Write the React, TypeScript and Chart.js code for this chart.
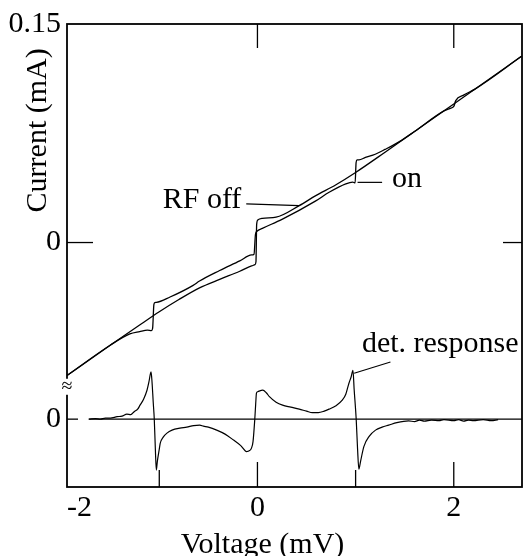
import React, { useEffect, useRef } from "react";
import { Chart, registerables } from "chart.js";

Chart.register(...registerables);

// ---- data (Voltage in mV, Current in mA, detector response in arbitrary units) ----
const OFF_V = [-1.94, -1.5, -1.2, -1.0, -0.8, -0.59, -0.385, -0.18, -0.06, -0.025, -0.015, -0.008, 0.003, 0.05, 0.19, 0.425, 0.59, 0.8, 1.0, 1.3, 2.0, 2.69];
const OFF_I = [-0.0913, -0.0705, -0.0566, -0.0475, -0.0391, -0.0311, -0.0253, -0.0197, -0.0161, -0.0151, -0.0132, 0.0124, 0.0154, 0.0166, 0.0174, 0.0253, 0.032, 0.0397, 0.0481, 0.062, 0.0951, 0.1278];

const ON_V = [-1.94, -1.5, -1.3, -1.2, -1.12, -1.08, -1.068, -1.055, -1.045, -1.03, -0.89, -0.655, -0.59, -0.385, -0.18, -0.06, -0.035, -0.02, -0.005, 0.05, 0.25, 0.59, 0.73, 0.9, 0.97, 0.995, 1.005, 1.015, 1.034, 1.1, 1.2, 1.3, 1.45, 1.6, 1.9, 1.97, 2.0, 2.02, 2.1, 2.22, 2.69];
const ON_I = [-0.0913, -0.0705, -0.0627, -0.0611, -0.0601, -0.0604, -0.059, -0.0426, -0.0412, -0.0411, -0.0374, -0.0294, -0.0264, -0.0192, -0.0126, -0.0085, -0.008, 0.0057, 0.0078, 0.0097, 0.0159, 0.0284, 0.0345, 0.0403, 0.0415, 0.0409, 0.0549, 0.0567, 0.0567, 0.0584, 0.0606, 0.0639, 0.0694, 0.0762, 0.0904, 0.0923, 0.0934, 0.0974, 0.1012, 0.1055, 0.1278];

const DET_V = [-1.715, -1.65, -1.6, -1.55, -1.5, -1.429, -1.38, -1.33, -1.29, -1.256, -1.22, -1.196, -1.16, -1.125, -1.105, -1.084, -1.074, -1.062, -1.051, -1.04, -1.03, -1.02, -1.0, -0.99, -0.96, -0.922, -0.87, -0.79, -0.72, -0.65, -0.588, -0.55, -0.5, -0.415, -0.33, -0.243, -0.17, -0.111, -0.08, -0.061, -0.045, -0.027, -0.018, -0.01, 0.003, 0.054, 0.09, 0.122, 0.19, 0.256, 0.34, 0.426, 0.5, 0.56, 0.62, 0.68, 0.729, 0.8, 0.864, 0.9, 0.932, 0.955, 0.973, 0.985, 1.006, 1.02, 1.033, 1.05, 1.084, 1.14, 1.203, 1.27, 1.337, 1.42, 1.54, 1.6, 1.65, 1.7, 1.773, 1.85, 1.9, 2.0, 2.05, 2.1, 2.15, 2.2, 2.3, 2.38, 2.452];
const DET_R = [0, 0.01, 0.0, 0.02, 0.02, 0.05, 0.06, 0.1, 0.09, 0.15, 0.2, 0.28, 0.4, 0.58, 0.75, 0.95, 0.75, 0.35, 0.0, -0.6, -1.02, -0.85, -0.6, -0.48, -0.36, -0.28, -0.22, -0.18, -0.16, -0.13, -0.12, -0.14, -0.16, -0.22, -0.3, -0.42, -0.53, -0.65, -0.63, -0.58, -0.45, 0.0, 0.3, 0.52, 0.55, 0.58, 0.53, 0.45, 0.34, 0.28, 0.24, 0.2, 0.16, 0.13, 0.13, 0.16, 0.2, 0.27, 0.38, 0.5, 0.72, 0.85, 0.98, 0.6, 0, -0.6, -1.0, -0.85, -0.55, -0.34, -0.22, -0.16, -0.12, -0.07, -0.034, -0.05, -0.02, -0.04, -0.02, -0.03, -0.01, -0.03, -0.01, -0.04, -0.02, -0.03, -0.01, -0.03, -0.01];

// ---- axes ----
const X_MIN = -1.94;
const X_MAX = 2.695;
const X_TICK_VALUES = [X_MIN, 0, 2, X_MAX];
const X_TICK_LABELS = ["-2", "0", "2", ""];
const Y_MIN = -0.1678;
const Y_MAX = 0.15;
const DET_MIN = -1.36;
const DET_MAX = 7.92;
const DET_ZERO_MA = Y_MIN + ((0 - DET_MIN) / (DET_MAX - DET_MIN)) * (Y_MAX - Y_MIN);
const Y_TICK_VALUES = [DET_ZERO_MA, 0, 0.15];
const Y_TICK_LABELS = ["0", "0", "0.15"];

const TOP_TICKS = [0, 2];
const BOTTOM_LONG_TICKS = [0, 2];
const BOTTOM_SHORT_TICKS = [-1, 1];
const BREAK_AT = -0.099;
const DET_ZERO_FROM = -1.72;

const FAMILY = "'Liberation Serif', 'Times New Roman', serif";
const FONT = `30px ${FAMILY}`;

const decor = {
  id: "decor",
  afterDraw(chart: any) {
    const { ctx, chartArea: a, scales } = chart;
    const X = (v: number) => scales.x.getPixelForValue(v);
    const Y = (v: number) => scales.y.getPixelForValue(v);
    const D = (v: number) => scales.yDet.getPixelForValue(v);
    const seg = (x1: number, y1: number, x2: number, y2: number) => {
      ctx.beginPath();
      ctx.moveTo(x1, y1);
      ctx.lineTo(x2, y2);
      ctx.stroke();
    };
    ctx.save();
    ctx.strokeStyle = "#000";
    ctx.lineWidth = 1.3;
    const z = D(0);
    seg(a.left, z, a.left + 11, z);
    seg(X(DET_ZERO_FROM), z, a.right, z);
    for (const v of TOP_TICKS) seg(X(v), a.top, X(v), a.top + 24);
    for (const v of BOTTOM_LONG_TICKS) seg(X(v), a.bottom, X(v), a.bottom - 25);
    for (const v of BOTTOM_SHORT_TICKS) seg(X(v), a.bottom, X(v), a.bottom - 17);
    seg(a.left, Y(0), a.left + 26, Y(0));
    seg(a.right - 19, Y(0), a.right, Y(0));
    ctx.lineWidth = 1.8;
    ctx.strokeRect(a.left, a.top, a.right - a.left, a.bottom - a.top);

    // axis break mark
    const b = Y(BREAK_AT);
    ctx.fillStyle = "#fff";
    ctx.fillRect(a.left - 3, b - 8, 6, 16);
    ctx.fillStyle = "#000";
    ctx.font = `20px ${FAMILY}`;
    ctx.textAlign = "center";
    ctx.textBaseline = "middle";
    ctx.fillText("≈", a.left, b);

    // annotations
    ctx.lineWidth = 1.2;
    ctx.font = FONT;
    ctx.textAlign = "left";
    ctx.textBaseline = "alphabetic";
    ctx.fillText("RF off", X(-0.965), Y(0.024));
    seg(X(-0.114), Y(0.0265), X(0.426), Y(0.0253));
    ctx.fillText("on", X(1.37), Y(0.0379));
    seg(X(1.02), Y(0.0413), X(1.27), Y(0.0413));
    ctx.fillText("det. response", X(1.064), Y(-0.0753));
    seg(X(1.355), Y(-0.082), X(0.985), D(0.92));

    // axis titles
    ctx.textAlign = "center";
    ctx.fillText("Voltage (mV)", chart.width / 2, 553);
    ctx.translate(38, Y(0.077));
    ctx.rotate(-Math.PI / 2);
    ctx.textBaseline = "middle";
    ctx.fillText("Current (mA)", 0, 0);
    ctx.restore();
  },
};

export default function App() {
  const ref = useRef<HTMLCanvasElement>(null);
  useEffect(() => {
    const line = (v: number[], y: number[]) => v.map((x, i) => ({ x, y: y[i] }));
    const common = {
      borderColor: "#000",
      borderWidth: 1.3,
      pointRadius: 0,
      fill: false,
      cubicInterpolationMode: "monotone" as const,
    };
    const chart = new Chart(ref.current!, {
      type: "line",
      data: {
        datasets: [
          { label: "RF off", data: line(OFF_V, OFF_I), yAxisID: "y", ...common },
          { label: "on", data: line(ON_V, ON_I), yAxisID: "y", ...common },
          { label: "det. response", data: line(DET_V, DET_R), yAxisID: "yDet", ...common, borderWidth: 1.2 },
        ],
      },
      options: {
        responsive: false,
        animation: false,
        devicePixelRatio: 1,
        events: [],
        layout: { padding: { top: 23, right: 1, left: 0, bottom: 0 } },
        plugins: { legend: { display: false }, tooltip: { enabled: false } },
        scales: {
          x: {
            type: "linear",
            position: "bottom",
            min: X_MIN,
            max: X_MAX,
            grid: { display: false, drawTicks: false },
            border: { display: false },
            afterBuildTicks: (s: any) => {
              s.ticks = X_TICK_VALUES.map((value) => ({ value }));
            },
            afterFit: (s: any) => {
              s.height = 69;
            },
            ticks: {
              autoSkip: false,
              maxRotation: 0,
              minRotation: 0,
              align: "inner",
              padding: 3,
              color: "#000",
              font: { family: FAMILY, size: 30 },
              callback: (_v: any, i: number) => X_TICK_LABELS[i],
            },
          },
          y: {
            type: "linear",
            position: "left",
            min: Y_MIN,
            max: Y_MAX,
            grid: { display: false, drawTicks: false },
            border: { display: false },
            afterBuildTicks: (s: any) => {
              s.ticks = Y_TICK_VALUES.map((value) => ({ value }));
            },
            afterFit: (s: any) => {
              s.width = 67;
            },
            ticks: {
              autoSkip: false,
              padding: 6,
              color: "#000",
              font: { family: FAMILY, size: 30 },
              callback: (_v: any, i: number) => Y_TICK_LABELS[i],
            },
          },
          yDet: { type: "linear", display: false, min: DET_MIN, max: DET_MAX },
        },
      },
      plugins: [decor],
    } as any);
    return () => chart.destroy();
  }, []);
  return (
    <canvas
      ref={ref}
      width={525}
      height={556}
      style={{ position: "absolute", left: 0, top: 0, width: 525, height: 556 }}
    />
  );
}
